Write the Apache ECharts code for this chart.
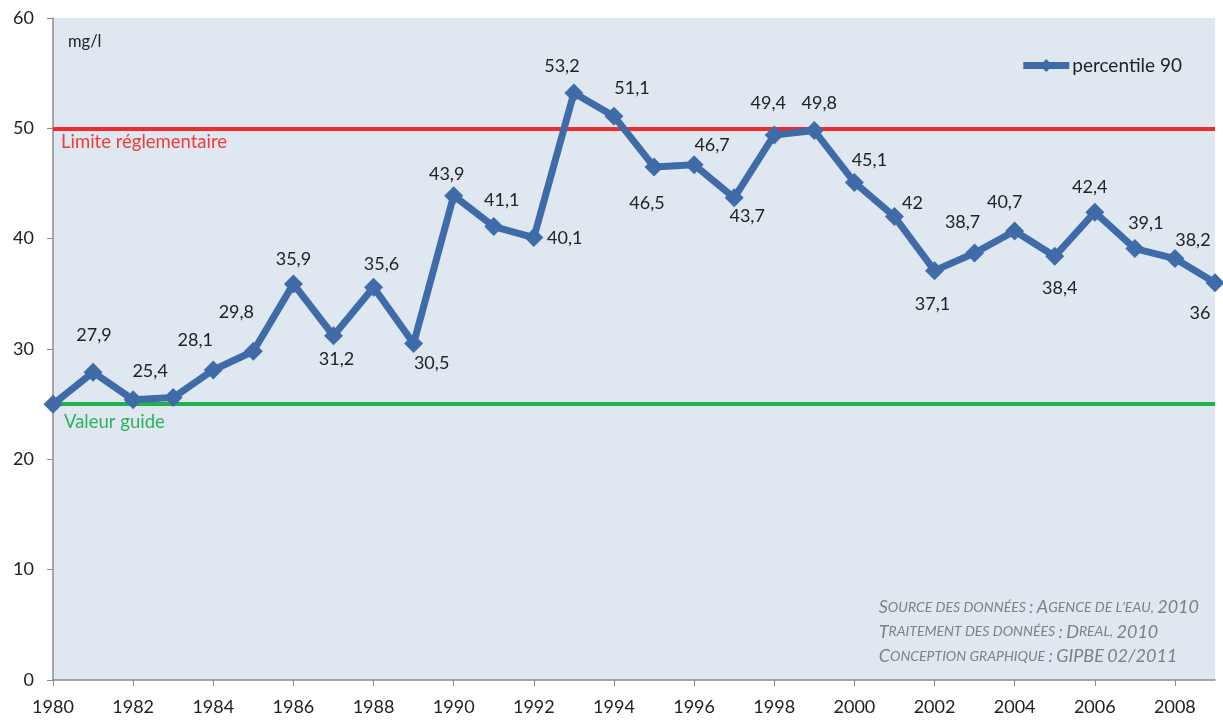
<!DOCTYPE html>
<html>
<head>
<meta charset="utf-8">
<title>percentile 90</title>
<script src="https://cdn.jsdelivr.net/npm/echarts@6/dist/echarts.min.js"></script>
<style>
  html, body { margin: 0; padding: 0; background: #fff; }
  #main { width: 1223px; height: 722px; }
</style>
</head>
<body>
<div id="main"></div>
<script>
var years = [];
for (var y = 1980; y <= 2009; y++) years.push(String(y));

// percentile 90, mg/l
var p90 = [25, 27.9, 25.4, 25.6, 28.1, 29.8, 35.9, 31.2, 35.6, 30.5,
  43.9, 41.1, 40.1, 53.2, 51.1, 46.5, 46.7, 43.7, 49.4, 49.8,
  45.1, 42, 37.1, 38.7, 40.7, 38.4, 42.4, 39.1, 38.2, 36];
// points whose value is not written on the chart
var unlabelled = [0, 3];

var limite = 50;
var guide = 25;

// label placement around each marker (px from the marker centre)
var labelShift = [
  [0, 0], [1, -37], [17, -29], [0, 0], [-18, -30], [-17, -39], [0, -25], [3, 23], [8, -23], [18, 20],
  [-7, -21], [8, -26], [31, 1], [-12, -27], [18, -28], [-7, 36], [18, -20], [13, 18], [-6, -32], [5, -27],
  [15, -22], [18, -13], [-2, 34], [-12, -31], [-10, -29], [5, 32], [-5, -25], [11, -25], [18, -18], [-15, 30]
];

var font = 'Lato, "Open Sans", sans-serif';
var blue = '#3f6ca8';

var seriesData = p90.map(function (v, i) {
  return {
    value: v,
    label: {
      show: unlabelled.indexOf(i) < 0,
      position: 'inside',
      offset: labelShift[i]
    }
  };
});

function smallCaps(s) {
  // fake small caps with rich text
  var out = '';
  for (var i = 0; i < s.length; i++) {
    var c = s[i];
    if (c !== c.toLowerCase() || /[0-9\/:]/.test(c)) out += '{b|' + c + '}';
    else out += '{s|' + c.toUpperCase() + '}';
  }
  return out;
}

var creditLines = [
  'Source des données : Agence de l\'eau, 2010',
  'Traitement des données : Dreal, 2010',
  'Conception graphique : GIPBE 02/2011'
];

var myChart = echarts.init(document.getElementById('main'));

var option = {
  animation: false,
  backgroundColor: '#ffffff',
  textStyle: { fontFamily: font },
  grid: {
    left: 53, right: 8, top: 18, bottom: 42,
    show: true,
    backgroundColor: '#dfe8f1',
    borderWidth: 0
  },
  legend: {
    right: 36, top: 51,
    itemWidth: 46, itemHeight: 16,
    itemGap: 4,
    lineStyle: { width: 7 },
    textStyle: { fontSize: 19, color: '#222', fontFamily: font, padding: [0, 0, 0, -2] },
    data: ['percentile 90']
  },
  xAxis: {
    type: 'category',
    data: years,
    boundaryGap: false,
    axisLine: { lineStyle: { color: '#8c8c8c', width: 1.5 } },
    axisTick: { interval: 1, length: 6, lineStyle: { color: '#8c8c8c' } },
    axisLabel: { interval: 1, fontSize: 18, color: '#222', margin: 18, fontFamily: font }
  },
  yAxis: {
    type: 'value',
    min: 0, max: 60, interval: 10,
    axisLine: { show: true, lineStyle: { color: '#8c8c8c', width: 1.5 } },
    axisTick: { show: true, length: 6, lineStyle: { color: '#8c8c8c' } },
    axisLabel: { fontSize: 18, color: '#222', margin: 19, fontFamily: font },
    splitLine: { show: false }
  },
  graphic: [
    {
      type: 'text', left: 68, top: 33,
      style: { text: 'mg/l', fontSize: 16.5, fill: '#222', fontFamily: font }
    },
    {
      type: 'text', right: 24, top: 595,
      style: {
        text: creditLines.map(smallCaps).join('\n'),
        align: 'left',
        lineHeight: 24.5,
        fill: '#808080',
        fontStyle: 'italic',
        fontFamily: font,
        rich: {
          b: { fontSize: 18, fontStyle: 'italic', fill: '#808080', fontFamily: font },
          s: { fontSize: 14, fontStyle: 'italic', fill: '#808080', fontFamily: font }
        }
      }
    }
  ],
  series: [
    {
      name: 'percentile 90',
      type: 'line',
      data: seriesData,
      symbol: 'diamond',
      symbolSize: 19,
      lineStyle: { color: blue, width: 7 },
      itemStyle: { color: blue },
      label: {
        fontSize: 18, color: '#222', fontFamily: font,
        formatter: function (p) { return String(p.value).replace('.', ','); }
      },
      z: 5,
      markLine: {
        silent: true,
        symbol: 'none',
        z: 3,
        data: [
          {
            yAxis: limite,
            lineStyle: { color: '#ee2c2c', width: 4, type: 'solid' },
            label: {
              formatter: 'Limite réglementaire',
              position: 'insideStartBottom',
              distance: [8, 4],
              color: '#ee3b3b', fontSize: 18.5, fontFamily: font
            }
          },
          {
            yAxis: guide,
            lineStyle: { color: '#22b050', width: 4, type: 'solid' },
            label: {
              formatter: 'Valeur guide',
              position: 'insideStartBottom',
              distance: [11, 8],
              color: '#2bb35a', fontSize: 18.5, fontFamily: font
            }
          }
        ]
      }
    }
  ]
};

myChart.setOption(option);
</script>
</body>
</html>
